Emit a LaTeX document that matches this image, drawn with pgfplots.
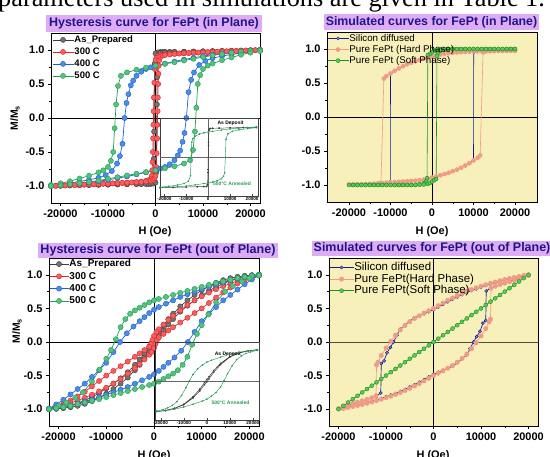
\documentclass[border=0pt]{standalone}
\usepackage{pgfplots}
\pgfplotsset{compat=1.18}
\usepackage{fontspec}
\setmainfont{Liberation Sans}
\newfontfamily\seriffont{Liberation Serif}
\definecolor{cBk}{RGB}{60,60,60}
\definecolor{cBkF}{RGB}{115,115,115}
\definecolor{cRd}{RGB}{225,35,35}
\definecolor{cRdF}{RGB}{245,95,95}
\definecolor{cBl}{RGB}{30,95,205}
\definecolor{cBlF}{RGB}{75,140,235}
\definecolor{cGn}{RGB}{35,155,85}
\definecolor{cGnF}{RGB}{85,195,125}
\definecolor{tbg}{RGB}{222,172,246}
\definecolor{tfg}{RGB}{32,20,135}
\definecolor{ybg}{RGB}{247,240,186}
\definecolor{sNv}{RGB}{25,25,140}
\definecolor{sNvF}{RGB}{120,120,210}
\definecolor{sSa}{RGB}{240,155,135}
\definecolor{sGn}{RGB}{25,145,25}
\definecolor{sGnF}{RGB}{90,200,90}
\pgfplotsset{
  panel/.style={scale only axis, clip=true, scaled ticks=false,
    axis line style={black, line width=0.6pt},
    tick align=outside, tick pos=left,
    major tick length=3bp, minor tick length=1.8bp,
    tick style={black, line width=0.5pt},
    xtick={-20000,-10000,0,10000,20000},
    xticklabels={-20000,-10000,0,10000,20000},
    minor xtick={-15000,-5000,5000,15000},
    ytick={-1,-0.5,0,0.5,1},
    yticklabels={-1.0,-0.5,0.0,0.5,1.0},
    minor ytick={-0.75,-0.25,0.25,0.75},
    ymin=-1.25, ymax=1.25,
    ticklabel style={font=\bfseries\fontsize{11}{12}\selectfont},
    legend cell align=left,
  },
  ex/.style={line width=0.7pt, mark=*, mark size=2.6bp},
  inset/.style={scale only axis, clip=true, scaled ticks=false,
    axis line style={black!75, line width=0.4pt},
    xtick={-20000,-10000,0,10000,20000},
    xticklabels={-20000,-10000,0,10000,20000},
    ytick=\empty, tick align=inside, tick pos=left,
    major tick length=1.5bp, tick style={black!75, line width=0.3pt},
    xticklabel style={font=\bfseries\fontsize{4.6}{5}\selectfont, inner sep=0.8bp},
  },
  thinmk/.style={line width=0.45pt, mark=*, mark size=0.55bp},
}
\begin{document}
\begin{tikzpicture}[x=1bp,y=1bp]
\useasboundingbox (0,0) rectangle (550,457);
\node[anchor=base west, inner sep=0pt, font=\seriffont\fontsize{26.4}{30}\selectfont] at (-2,450) {parameters used in simulations are given in Table 1.};

% ---------------- Panel 1 ----------------
\begin{axis}[panel, at={(51bp,254bp)}, anchor=south west, width=209bp, height=170bp,
  xmin=-22000, xmax=22000,
  legend style={at={(0,1)}, anchor=north west, draw=none, fill=none, inner sep=0pt,
    xshift=1bp, yshift=-1.5bp, font=\bfseries\fontsize{9.5}{10}\selectfont, row sep=1.6bp,
    nodes={inner sep=0.6bp, text height=7.2bp, text depth=2bp}},
  legend image code/.code={\draw[mark repeat=2,mark phase=2] plot coordinates {(0bp,0bp)(10.5bp,0bp)(21bp,0bp)};}]
\draw[black, line width=0.5pt] (axis cs:-22000,0) -- (axis cs:22000,0);
\draw[black, line width=0.5pt] (axis cs:0,-1.25) -- (axis cs:0,1.25);
\addplot[ex, cBk, mark options={solid, line width=0.4pt, fill=cBkF, draw=cBk}] coordinates {
(22000,1.0) (20000,0.995) (18000,0.99) (16000,0.988) (14000,0.985) (12000,0.983) (10000,0.98) (8000,0.978) (6000,0.976) (4000,0.974) (3000,0.973) (2000,0.972) (1500,0.971) (1000,0.97) (500,0.965) (0,0.95) (-150,0.8) (-250,0.3) (-300,-0.2) (-350,-0.6) (-450,-0.88) (-700,-0.94) (-1000,-0.955) (-1500,-0.96) (-2000,-0.962) (-3000,-0.965) (-4000,-0.968) (-6000,-0.972) (-8000,-0.976) (-10000,-0.98) (-12000,-0.983) (-14000,-0.986) (-16000,-0.989) (-18000,-0.992) (-20000,-0.996) (-22000,-1.0)
(-20000,-0.995) (-18000,-0.99) (-16000,-0.988) (-14000,-0.985) (-12000,-0.983) (-10000,-0.98) (-8000,-0.978) (-6000,-0.976) (-4000,-0.974) (-3000,-0.973) (-2000,-0.972) (-1500,-0.971) (-1000,-0.97) (-500,-0.965) (0,-0.95) (150,-0.8) (250,-0.3) (300,0.2) (350,0.6) (450,0.88) (700,0.94) (1000,0.955) (1500,0.96) (2000,0.962) (3000,0.965) (4000,0.968) (6000,0.972) (8000,0.976) (10000,0.98) (12000,0.983) (14000,0.986) (16000,0.989) (18000,0.992) (20000,0.996) (22000,1.0)
};
\addlegendentry{As\_Prepared}
\addplot[ex, cRd, mark options={solid, line width=0.4pt, fill=cRdF, draw=cRd}] coordinates {
(22000,1.0) (21000,0.997) (20000,0.994) (19000,0.991) (18000,0.988) (17000,0.985) (16000,0.982) (15000,0.979) (14000,0.976) (13000,0.973) (12000,0.97) (11000,0.967) (10000,0.964) (9000,0.961) (8000,0.958) (7000,0.955) (6000,0.952) (5000,0.949) (4000,0.945) (3000,0.94) (2000,0.934) (1000,0.924) (500,0.91) (200,0.885) (0,0.85) (-150,0.72) (-250,0.52) (-330,0.3) (-400,0.1) (-450,-0.1) (-500,-0.3) (-560,-0.5) (-620,-0.65) (-700,-0.77) (-800,-0.85) (-1000,-0.9) (-1500,-0.915) (-2000,-0.925) (-3000,-0.935) (-4000,-0.942) (-5000,-0.948) (-6000,-0.952) (-7000,-0.956) (-8000,-0.96) (-9000,-0.963) (-10000,-0.966) (-11000,-0.969) (-12000,-0.972) (-13000,-0.975) (-14000,-0.978) (-15000,-0.981) (-16000,-0.984) (-17000,-0.987) (-18000,-0.99) (-19000,-0.993) (-20000,-0.996) (-21000,-0.998) (-22000,-1.0)
(-21000,-0.997) (-20000,-0.994) (-19000,-0.991) (-18000,-0.988) (-17000,-0.985) (-16000,-0.982) (-15000,-0.979) (-14000,-0.976) (-13000,-0.973) (-12000,-0.97) (-11000,-0.967) (-10000,-0.964) (-9000,-0.961) (-8000,-0.958) (-7000,-0.955) (-6000,-0.952) (-5000,-0.949) (-4000,-0.945) (-3000,-0.94) (-2000,-0.934) (-1000,-0.924) (-500,-0.91) (-200,-0.885) (0,-0.85) (150,-0.72) (250,-0.52) (330,-0.3) (400,-0.1) (450,0.1) (500,0.3) (560,0.5) (620,0.65) (700,0.77) (800,0.85) (1000,0.9) (1500,0.915) (2000,0.925) (3000,0.935) (4000,0.942) (5000,0.948) (6000,0.952) (7000,0.956) (8000,0.96) (9000,0.963) (10000,0.966) (11000,0.969) (12000,0.972) (13000,0.975) (14000,0.978) (15000,0.981) (16000,0.984) (17000,0.987) (18000,0.99) (19000,0.993) (20000,0.996) (21000,0.998) (22000,1.0)
};
\addlegendentry{300 C}
\addplot[ex, cBl, mark options={solid, line width=0.4pt, fill=cBlF, draw=cBl}] coordinates {
(22000,1.0) (20000,0.99) (18000,0.978) (16000,0.965) (14000,0.95) (12000,0.93) (10000,0.91) (8000,0.885) (6000,0.86) (4000,0.83) (2000,0.8) (0,0.765) (-1000,0.745) (-2000,0.72) (-3000,0.68) (-4000,0.62) (-4700,0.55) (-5200,0.48) (-5700,0.35) (-6100,0.22) (-6500,0.0) (-6950,-0.38) (-7500,-0.56) (-8100,-0.67) (-9200,-0.78) (-10500,-0.84) (-12000,-0.88) (-14000,-0.91) (-16000,-0.935) (-18000,-0.955) (-20000,-0.975) (-22000,-0.99)
(-22000,-1.0) (-20000,-0.99) (-18000,-0.978) (-16000,-0.965) (-14000,-0.95) (-12000,-0.93) (-10000,-0.91) (-8000,-0.885) (-6000,-0.86) (-4000,-0.83) (-2000,-0.8) (0,-0.765) (1000,-0.745) (2000,-0.72) (3000,-0.68) (4000,-0.62) (4700,-0.55) (5200,-0.48) (5700,-0.35) (6100,-0.22) (6500,0.0) (6950,0.38) (7500,0.56) (8100,0.67) (9200,0.78) (10500,0.84) (12000,0.88) (14000,0.91) (16000,0.935) (18000,0.955) (20000,0.975) (22000,0.99)
};
\addlegendentry{400 C}
\addplot[ex, cGn, mark options={solid, line width=0.4pt, fill=cGnF, draw=cGn}] coordinates {
(22000,1.0) (20000,0.99) (18000,0.975) (16000,0.96) (14000,0.94) (12000,0.92) (10000,0.895) (8000,0.87) (6000,0.845) (4000,0.82) (2000,0.795) (0,0.77) (-2000,0.74) (-4000,0.71) (-6000,0.67) (-7300,0.62) (-7900,0.47) (-8300,0.2) (-8600,-0.15) (-8900,-0.5) (-9400,-0.63) (-10000,-0.72) (-11000,-0.77) (-12000,-0.8) (-14000,-0.85) (-16000,-0.89) (-18000,-0.93) (-20000,-0.96) (-22000,-0.985)
(-22000,-1.0) (-20000,-0.99) (-18000,-0.975) (-16000,-0.96) (-14000,-0.94) (-12000,-0.92) (-10000,-0.895) (-8000,-0.87) (-6000,-0.845) (-4000,-0.82) (-2000,-0.795) (0,-0.77) (2000,-0.74) (4000,-0.71) (6000,-0.67) (7300,-0.62) (7900,-0.47) (8300,-0.2) (8600,0.15) (8900,0.5) (9400,0.63) (10000,0.72) (11000,0.77) (12000,0.8) (14000,0.85) (16000,0.89) (18000,0.93) (20000,0.96) (22000,0.985)
};
\addlegendentry{500 C}
\end{axis}

% inset panel 1
\begin{axis}[inset, at={(160bp,261bp)}, anchor=south west, width=98bp, height=78bp,
  xmin=-22000, xmax=22700, ymin=-1.27, ymax=1.3]
\draw[black!60, line width=0.35pt] (axis cs:-22000,0) -- (axis cs:22700,0);
\draw[black!60, line width=0.35pt] (axis cs:0,-1.27) -- (axis cs:0,1.3);
\addplot[thinmk, cBk] coordinates {
(22000,1.0) (16000,0.985) (10000,0.975) (5000,0.965) (2000,0.96) (800,0.955) (300,0.9) (100,0.4) (-100,-0.5) (-300,-0.9) (-800,-0.955) (-2000,-0.96) (-5000,-0.965) (-10000,-0.975) (-16000,-0.985) (-22000,-1.0)
(-16000,-0.985) (-10000,-0.975) (-5000,-0.965) (-2000,-0.96) (-800,-0.955) (-300,-0.9) (-100,-0.4) (100,0.5) (300,0.9) (800,0.955) (2000,0.96) (5000,0.965) (10000,0.975) (16000,0.985) (22000,1.0)
};
\addplot[thinmk, cGn] coordinates {
(22000,1.0) (18000,0.985) (14000,0.965) (10000,0.94) (6000,0.905) (2000,0.86) (0,0.84) (-2000,0.81) (-4000,0.77) (-6000,0.7) (-7000,0.62) (-7500,0.5) (-7800,0.0) (-8100,-0.6) (-9000,-0.78) (-11000,-0.86) (-14000,-0.91) (-18000,-0.95) (-22000,-0.98)
(-22000,-1.0) (-18000,-0.985) (-14000,-0.965) (-10000,-0.94) (-6000,-0.905) (-2000,-0.86) (0,-0.84) (2000,-0.81) (4000,-0.77) (6000,-0.7) (7000,-0.62) (7500,-0.5) (7800,0.0) (8100,0.6) (9000,0.78) (11000,0.86) (14000,0.91) (18000,0.95) (22000,0.98)
};
\node[font=\bfseries\fontsize{5}{5}\selectfont, text=black] at (rel axis cs:0.72,0.935) {As Deposit};
\node[font=\bfseries\fontsize{5}{5}\selectfont, text=cGn] at (rel axis cs:0.735,0.16) {500°C Annealed};
\end{axis}

% ---------------- Panel 2 ----------------
\begin{axis}[panel, at={(327bp,255bp)}, anchor=south west, width=210bp, height=170bp,
  xmin=-25300, xmax=25300, axis background/.style={fill=ybg},
  legend style={at={(0,1)}, anchor=north west, draw=none, fill=none, inner sep=0pt,
    xshift=0bp, yshift=-1bp, font=\fontsize{9.8}{10}\selectfont, row sep=0.6bp,
    nodes={inner sep=0.6bp, text height=7.3bp, text depth=2bp}},
  legend image code/.code={\draw[mark repeat=2,mark phase=2] plot coordinates {(0bp,0bp)(10.5bp,0bp)(21bp,0bp)};}]
\draw[black, line width=0.5pt] (axis cs:-25300,0) -- (axis cs:25300,0);
\draw[black, line width=0.5pt] (axis cs:0,-1.25) -- (axis cs:0,1.25);
\addplot[sNv, line width=0.6pt, mark=*, mark size=1.5bp, mark options={solid, fill=sNvF, draw=sNv, line width=0.4pt}] coordinates {
(20000,0.975) (19000,0.975) (18000,0.974) (17000,0.974) (16000,0.973) (15000,0.972) (14000,0.971) (13000,0.97) (12000,0.968) (11000,0.966) (10000,0.964) (9000,0.961) (8000,0.958) (7000,0.954) (6000,0.95) (5000,0.945) (4000,0.938) (3000,0.93) (2000,0.92) (1000,0.905) (0,0.89) (-1000,0.875) (-2000,0.858) (-3000,0.84) (-4000,0.82) (-5000,0.798) (-6000,0.774) (-7000,0.746) (-8000,0.714) (-9000,0.68) (-10000,0.64) (-10050,-0.95) (-11000,-0.975) (-12000,-0.98) (-13000,-0.985) (-14000,-0.988) (-15000,-0.99) (-16000,-0.99) (-17000,-0.992) (-18000,-0.992) (-19000,-0.993) (-20000,-0.993)
(-19000,-0.993) (-18000,-0.992) (-17000,-0.99) (-16000,-0.988) (-15000,-0.985) (-14000,-0.981) (-13000,-0.977) (-12000,-0.972) (-11000,-0.967) (-10000,-0.962) (-9000,-0.958) (-8000,-0.954) (-7000,-0.95) (-6000,-0.946) (-5000,-0.942) (-4000,-0.937) (-3000,-0.93) (-2000,-0.92) (-1000,-0.905) (0,-0.89) (1000,-0.875) (2000,-0.858) (3000,-0.84) (4000,-0.82) (5000,-0.798) (6000,-0.774) (7000,-0.746) (8000,-0.714) (9000,-0.68) (10000,-0.64) (10050,0.95) (11000,0.965) (12000,0.968) (13000,0.97) (14000,0.971) (15000,0.972) (16000,0.973) (17000,0.974) (18000,0.974) (19000,0.975) (20000,0.975)
};
\addlegendentry{Silicon diffused}
\addplot[sSa, line width=0.6pt, mark=*, mark size=2bp, mark options={solid, fill=sSa, draw=sSa}] coordinates {
(20000,0.975) (19000,0.975) (18000,0.974) (17000,0.974) (16000,0.973) (15000,0.972) (14000,0.971) (13000,0.97) (12000,0.968) (11000,0.966) (10000,0.964) (9000,0.961) (8000,0.958) (7000,0.954) (6000,0.95) (5000,0.945) (4000,0.938) (3000,0.93) (2000,0.92) (1000,0.905) (0,0.89) (-1000,0.875) (-2000,0.858) (-3000,0.84) (-4000,0.82) (-5000,0.798) (-6000,0.774) (-7000,0.746) (-8000,0.714) (-9000,0.68) (-10000,0.64) (-11000,0.6) (-11600,0.565) (-12300,-0.97) (-13000,-0.985) (-14000,-0.988) (-15000,-0.99) (-16000,-0.99) (-17000,-0.992) (-18000,-0.992) (-19000,-0.993) (-20000,-0.993)
(-19000,-0.993) (-18000,-0.992) (-17000,-0.99) (-16000,-0.988) (-15000,-0.985) (-14000,-0.981) (-13000,-0.977) (-12000,-0.972) (-11000,-0.967) (-10000,-0.962) (-9000,-0.958) (-8000,-0.954) (-7000,-0.95) (-6000,-0.946) (-5000,-0.942) (-4000,-0.937) (-3000,-0.93) (-2000,-0.92) (-1000,-0.905) (0,-0.89) (1000,-0.875) (2000,-0.858) (3000,-0.84) (4000,-0.82) (5000,-0.798) (6000,-0.774) (7000,-0.746) (8000,-0.714) (9000,-0.68) (10000,-0.64) (11000,-0.6) (11600,-0.565) (12300,0.95) (13000,0.965) (14000,0.968) (15000,0.97) (16000,0.972) (17000,0.973) (18000,0.974) (19000,0.975) (20000,0.975)
};
\addlegendentry{Pure FePt (Hard Phase)}
\addplot[sGn, line width=0.6pt, mark=*, mark size=2bp, mark options={solid, fill=sGnF, draw=sGn, line width=0.4pt}] coordinates {
(20000,1.0) (19000,1.0) (18000,1.0) (17000,1.0) (16000,1.0) (15000,1.0) (14000,1.0) (13000,1.0) (12000,1.0) (11000,1.0) (10000,1.0) (9000,1.0) (8000,1.0) (7000,1.0) (6000,1.0) (5000,1.0) (4000,0.998) (3000,0.996) (2000,0.993) (1000,0.985) (500,0.97) (0,0.95) (-500,0.93) (-1000,0.91) (-1200,-0.9) (-1500,-0.95) (-2000,-0.975) (-3000,-0.99) (-4000,-1.0) (-5000,-1.0) (-6000,-1.0) (-7000,-1.0) (-8000,-1.0) (-9000,-1.0) (-10000,-1.0) (-11000,-1.0) (-12000,-1.0) (-13000,-1.0) (-14000,-1.0) (-15000,-1.0) (-16000,-1.0) (-17000,-1.0) (-18000,-1.0) (-19000,-1.0) (-20000,-1.0)
(-19000,-1.0) (-18000,-1.0) (-17000,-1.0) (-16000,-1.0) (-15000,-1.0) (-14000,-1.0) (-13000,-1.0) (-12000,-1.0) (-11000,-1.0) (-10000,-1.0) (-9000,-1.0) (-8000,-1.0) (-7000,-1.0) (-6000,-1.0) (-5000,-1.0) (-4000,-0.998) (-3000,-0.996) (-2000,-0.993) (-1000,-0.985) (-500,-0.97) (0,-0.95) (500,-0.93) (1000,-0.91) (1200,0.9) (1500,0.95) (2000,0.975) (3000,0.99) (4000,1.0) (5000,1.0) (6000,1.0) (7000,1.0) (8000,1.0) (9000,1.0) (10000,1.0) (11000,1.0) (12000,1.0) (13000,1.0) (14000,1.0) (15000,1.0) (16000,1.0) (17000,1.0) (18000,1.0) (19000,1.0) (20000,1.0)
};
\addlegendentry{Pure FePt (Soft Phase)}
\end{axis}

% ---------------- Panel 3 ----------------
\begin{axis}[panel, at={(49bp,31bp)}, anchor=south west, width=210bp, height=168bp,
  xmin=-22000, xmax=22000,
  legend style={at={(0,1)}, anchor=north west, draw=none, fill=none, inner sep=0pt,
    xshift=0bp, yshift=-0.5bp, font=\bfseries\fontsize{10}{10}\selectfont, row sep=1.6bp,
    nodes={inner sep=0.6bp, text height=7.5bp, text depth=2bp}},
  legend image code/.code={\draw[mark repeat=2,mark phase=2] plot coordinates {(0bp,0bp)(9.5bp,0bp)(19bp,0bp)};}]
\draw[black, line width=0.5pt] (axis cs:-22000,0) -- (axis cs:22000,0);
\draw[black, line width=0.5pt] (axis cs:0,-1.25) -- (axis cs:0,1.25);
\addplot[ex, cBk, mark options={solid, line width=0.4pt, fill=cBkF, draw=cBk}] coordinates {
(22000,1.0) (20500,0.995) (19000,0.985) (17500,0.97) (16000,0.95) (14500,0.92) (13000,0.88) (11500,0.83) (10000,0.77) (8500,0.7) (7000,0.62) (5500,0.53) (4000,0.42) (3000,0.34) (2000,0.25) (1000,0.15) (500,0.1) (0,0.05) (-500,-0.01) (-1000,-0.07) (-2000,-0.17) (-3000,-0.26) (-4000,-0.34) (-5500,-0.45) (-7000,-0.54) (-8500,-0.62) (-10000,-0.69) (-11500,-0.76) (-13000,-0.82) (-14500,-0.87) (-16000,-0.91) (-17500,-0.945) (-19000,-0.97) (-20500,-0.99) (-22000,-1.0)
(-20500,-0.995) (-19000,-0.985) (-17500,-0.97) (-16000,-0.95) (-14500,-0.92) (-13000,-0.88) (-11500,-0.83) (-10000,-0.77) (-8500,-0.7) (-7000,-0.62) (-5500,-0.53) (-4000,-0.42) (-3000,-0.34) (-2000,-0.25) (-1000,-0.15) (-500,-0.1) (0,-0.05) (500,0.01) (1000,0.07) (2000,0.17) (3000,0.26) (4000,0.34) (5500,0.45) (7000,0.54) (8500,0.62) (10000,0.69) (11500,0.76) (13000,0.82) (14500,0.87) (16000,0.91) (17500,0.945) (19000,0.97) (20500,0.99) (22000,1.0)
};
\addlegendentry{As\_Prepared}
\addplot[ex, cRd, mark options={solid, line width=0.4pt, fill=cRdF, draw=cRd}] coordinates {
(22000,1.0) (20500,0.975) (19000,0.945) (17500,0.91) (16000,0.87) (14500,0.83) (13000,0.785) (11500,0.735) (10000,0.68) (8500,0.62) (7000,0.55) (5500,0.47) (4000,0.39) (3000,0.33) (2000,0.26) (1000,0.19) (500,0.15) (0,0.09) (-300,0.03) (-600,-0.03) (-1000,-0.07) (-2000,-0.12) (-3000,-0.17) (-4000,-0.22) (-5500,-0.29) (-7000,-0.36) (-8500,-0.43) (-10000,-0.5) (-11500,-0.58) (-13000,-0.66) (-14500,-0.74) (-16000,-0.81) (-17500,-0.87) (-19000,-0.92) (-20500,-0.96) (-22000,-0.99)
(-22000,-1.0) (-20500,-0.975) (-19000,-0.945) (-17500,-0.91) (-16000,-0.87) (-14500,-0.83) (-13000,-0.785) (-11500,-0.735) (-10000,-0.68) (-8500,-0.62) (-7000,-0.55) (-5500,-0.47) (-4000,-0.39) (-3000,-0.33) (-2000,-0.26) (-1000,-0.19) (-500,-0.15) (0,-0.09) (300,-0.03) (600,0.03) (1000,0.07) (2000,0.12) (3000,0.17) (4000,0.22) (5500,0.29) (7000,0.36) (8500,0.43) (10000,0.5) (11500,0.58) (13000,0.66) (14500,0.74) (16000,0.81) (17500,0.87) (19000,0.92) (20500,0.96) (22000,0.99)
};
\addlegendentry{300 C}
\addplot[ex, cBl, mark options={solid, line width=0.4pt, fill=cBlF, draw=cBl}] coordinates {
(22000,1.0) (20500,0.985) (19000,0.965) (17500,0.94) (16000,0.915) (14500,0.885) (13000,0.855) (11500,0.82) (10000,0.785) (8500,0.75) (7000,0.71) (5500,0.67) (4000,0.62) (2500,0.57) (1000,0.52) (0,0.48) (-1000,0.43) (-2000,0.37) (-3000,0.31) (-4300,0.23) (-5700,0.13) (-7100,0.0) (-8500,-0.15) (-10000,-0.31) (-11500,-0.42) (-13000,-0.52) (-14500,-0.62) (-16000,-0.7) (-17500,-0.78) (-19000,-0.86) (-20500,-0.93) (-22000,-0.99)
(-22000,-1.0) (-20500,-0.985) (-19000,-0.965) (-17500,-0.94) (-16000,-0.915) (-14500,-0.885) (-13000,-0.855) (-11500,-0.82) (-10000,-0.785) (-8500,-0.75) (-7000,-0.71) (-5500,-0.67) (-4000,-0.62) (-2500,-0.57) (-1000,-0.52) (0,-0.48) (1000,-0.43) (2000,-0.37) (3000,-0.31) (4300,-0.23) (5700,-0.13) (7100,0.0) (8500,0.15) (10000,0.31) (11500,0.42) (13000,0.52) (14500,0.62) (16000,0.7) (17500,0.78) (19000,0.86) (20500,0.93) (22000,0.99)
};
\addlegendentry{400 C}
\addplot[ex, cGn, mark options={solid, line width=0.4pt, fill=cGnF, draw=cGn}] coordinates {
(22000,1.0) (20500,0.985) (19000,0.97) (17500,0.95) (16000,0.925) (14500,0.9) (13000,0.875) (11500,0.85) (10000,0.82) (8500,0.79) (7000,0.76) (5500,0.73) (4000,0.7) (2500,0.67) (1000,0.64) (0,0.62) (-1000,0.59) (-2000,0.55) (-3000,0.51) (-4000,0.47) (-5000,0.42) (-6000,0.34) (-7000,0.22) (-8000,0.04) (-9000,-0.12) (-10000,-0.25) (-11400,-0.41) (-13000,-0.59) (-14900,-0.75) (-16500,-0.83) (-18400,-0.9) (-20000,-0.95) (-22000,-0.99)
(-22000,-1.0) (-20500,-0.985) (-19000,-0.97) (-17500,-0.95) (-16000,-0.925) (-14500,-0.9) (-13000,-0.875) (-11500,-0.85) (-10000,-0.82) (-8500,-0.79) (-7000,-0.76) (-5500,-0.73) (-4000,-0.7) (-2500,-0.67) (-1000,-0.64) (0,-0.62) (1000,-0.59) (2000,-0.55) (3000,-0.51) (4000,-0.47) (5000,-0.42) (6000,-0.34) (7000,-0.22) (8000,-0.04) (9000,0.12) (10000,0.25) (11400,0.41) (13000,0.59) (14900,0.75) (16500,0.83) (18400,0.9) (20000,0.95) (22000,0.99)
};
\addlegendentry{500 C}
\end{axis}

% inset panel 3
\begin{axis}[inset, at={(155bp,37bp)}, anchor=south west, width=104bp, height=78bp,
  xmin=-22500, xmax=22700, ymin=-1.27, ymax=1.25]
\draw[black!60, line width=0.35pt] (axis cs:-22500,0) -- (axis cs:22700,0);
\addplot[thinmk, cBk] coordinates {
(22000,1.0) (18000,0.97) (14000,0.9) (10000,0.78) (6000,0.56) (3000,0.33) (1000,0.13) (0,0.04) (-1000,-0.06) (-3000,-0.27) (-6000,-0.52) (-10000,-0.76) (-14000,-0.89) (-18000,-0.96) (-22000,-1.0)
(-18000,-0.97) (-14000,-0.9) (-10000,-0.78) (-6000,-0.56) (-3000,-0.33) (-1000,-0.13) (0,-0.04) (1000,0.06) (3000,0.27) (6000,0.52) (10000,0.76) (14000,0.89) (18000,0.96) (22000,1.0)
};
\addplot[thinmk, cGn] coordinates {
(22000,1.0) (18000,0.97) (14000,0.92) (10000,0.85) (6000,0.76) (2000,0.66) (0,0.6) (-2000,0.5) (-4000,0.38) (-6000,0.2) (-7500,0.0) (-9000,-0.22) (-11000,-0.48) (-13000,-0.68) (-15000,-0.8) (-17000,-0.88) (-19000,-0.93) (-22000,-0.98)
(-22000,-1.0) (-18000,-0.97) (-14000,-0.92) (-10000,-0.85) (-6000,-0.76) (-2000,-0.66) (0,-0.6) (2000,-0.5) (4000,-0.38) (6000,-0.2) (7500,0.0) (9000,0.22) (11000,0.48) (13000,0.68) (15000,0.8) (17000,0.88) (19000,0.93) (22000,0.98)
};
\node[font=\bfseries\fontsize{5}{5}\selectfont, text=black] at (rel axis cs:0.7,0.84) {As Deposit};
\node[font=\bfseries\fontsize{5}{5}\selectfont, text=cGn] at (rel axis cs:0.726,0.22) {500°C Annealed};
\end{axis}

% ---------------- Panel 4 ----------------
\begin{axis}[panel, at={(329bp,31bp)}, anchor=south west, width=209bp, height=168bp,
  xmin=-22000, xmax=22000, axis background/.style={fill=ybg},
  legend style={at={(0,1)}, anchor=north west, draw=none, fill=none, inner sep=0pt,
    xshift=0bp, yshift=-3.5bp, font=\fontsize{11.5}{12}\selectfont, row sep=0bp,
    nodes={inner sep=0.4bp, text height=8.4bp, text depth=2.4bp}},
  legend image code/.code={\draw[mark repeat=2,mark phase=2] plot coordinates {(0bp,0bp)(12bp,0bp)(24bp,0bp)};}]
\draw[black!70, line width=0.5pt] (axis cs:-22000,0) -- (axis cs:22000,0);
\draw[black, line width=0.5pt] (axis cs:0,-1.25) -- (axis cs:0,1.25);
\addplot[sNv, line width=0.7pt, mark=*, mark size=1.6bp, mark options={solid, fill=sNvF, draw=sNv, line width=0.4pt}] coordinates {
(20000,1.0) (19000,0.985) (18000,0.97) (17000,0.955) (16000,0.94) (15000,0.92) (14000,0.9) (13000,0.88) (12000,0.86) (11000,0.84) (10000,0.815) (9000,0.79) (8000,0.765) (7000,0.735) (6000,0.705) (5000,0.67) (4000,0.635) (3000,0.6) (2000,0.56) (1000,0.52) (0,0.48) (-1000,0.45) (-2000,0.42) (-3000,0.39) (-4000,0.36) (-5000,0.31) (-6000,0.25) (-7000,0.19) (-7700,0.1) (-8400,0.0) (-9100,-0.08) (-9800,-0.16) (-10400,-0.28) (-11000,-0.32) (-11100,-0.76) (-12000,-0.8) (-13000,-0.83) (-14000,-0.855) (-15000,-0.88) (-16000,-0.9) (-17000,-0.925) (-18000,-0.95) (-19000,-0.975) (-20000,-1.0)
(-19000,-0.985) (-18000,-0.97) (-17000,-0.955) (-16000,-0.94) (-15000,-0.92) (-14000,-0.9) (-13000,-0.88) (-12000,-0.86) (-11000,-0.84) (-10000,-0.815) (-9000,-0.79) (-8000,-0.765) (-7000,-0.735) (-6000,-0.705) (-5000,-0.67) (-4000,-0.635) (-3000,-0.6) (-2000,-0.56) (-1000,-0.52) (0,-0.48) (1000,-0.45) (2000,-0.42) (3000,-0.39) (4000,-0.36) (5000,-0.31) (6000,-0.25) (7000,-0.19) (7700,-0.1) (8400,0.0) (9100,0.08) (9800,0.16) (10400,0.28) (11000,0.32) (11100,0.76) (12000,0.8) (13000,0.83) (14000,0.855) (15000,0.88) (16000,0.9) (17000,0.925) (18000,0.95) (19000,0.975) (20000,1.0)
};
\addlegendentry{Silicon diffused}
\addplot[sSa, line width=0.7pt, mark=*, mark size=2.1bp, mark options={solid, fill=sSa, draw=sSa}] coordinates {
(20000,1.0) (19000,0.99) (18000,0.975) (17000,0.96) (16000,0.945) (15000,0.93) (14000,0.912) (13000,0.893) (12000,0.873) (11000,0.852) (10000,0.83) (9000,0.806) (8000,0.78) (7000,0.752) (6000,0.722) (5000,0.69) (4000,0.655) (3000,0.62) (2000,0.58) (1000,0.54) (0,0.5) (-1000,0.465) (-2000,0.43) (-3000,0.39) (-4000,0.35) (-5000,0.3) (-6000,0.245) (-7000,0.18) (-8000,0.1) (-9000,0.01) (-10000,-0.09) (-11000,-0.2) (-11700,-0.3) (-12000,-0.34) (-12100,-0.8) (-13000,-0.83) (-14000,-0.855) (-15000,-0.875) (-16000,-0.895) (-17000,-0.915) (-18000,-0.94) (-19000,-0.965) (-20000,-0.99)
(-19000,-0.99) (-18000,-0.975) (-17000,-0.96) (-16000,-0.945) (-15000,-0.93) (-14000,-0.912) (-13000,-0.893) (-12000,-0.873) (-11000,-0.852) (-10000,-0.83) (-9000,-0.806) (-8000,-0.78) (-7000,-0.752) (-6000,-0.722) (-5000,-0.69) (-4000,-0.655) (-3000,-0.62) (-2000,-0.58) (-1000,-0.54) (0,-0.5) (1000,-0.465) (2000,-0.43) (3000,-0.39) (4000,-0.35) (5000,-0.3) (6000,-0.245) (7000,-0.18) (8000,-0.1) (9000,-0.01) (10000,0.09) (11000,0.2) (11700,0.3) (12000,0.34) (12100,0.8) (13000,0.83) (14000,0.855) (15000,0.875) (16000,0.895) (17000,0.915) (18000,0.94) (19000,0.965) (20000,0.99)
};
\addlegendentry{Pure FePt(Hard Phase)}
\addplot[sGn, line width=0.7pt, mark=*, mark size=2bp, mark options={solid, fill=sGnF, draw=sGn, line width=0.4pt}] coordinates {
(-20000,-1.0) (-19000,-0.95) (-18000,-0.9) (-17000,-0.85) (-16000,-0.8) (-15000,-0.75) (-14000,-0.7) (-13000,-0.65) (-12000,-0.6) (-11000,-0.55) (-10000,-0.5) (-9000,-0.45) (-8000,-0.4) (-7000,-0.35) (-6000,-0.3) (-5000,-0.25) (-4000,-0.2) (-3000,-0.15) (-2000,-0.1) (-1000,-0.05) (0,0.0) (1000,0.05) (2000,0.1) (3000,0.15) (4000,0.2) (5000,0.25) (6000,0.3) (7000,0.35) (8000,0.4) (9000,0.45) (10000,0.5) (11000,0.55) (12000,0.6) (13000,0.65) (14000,0.7) (15000,0.75) (16000,0.8) (17000,0.85) (18000,0.9) (19000,0.95) (20000,1.0)
};
\addlegendentry{Pure FePt(Soft Phase)}
\end{axis}

% titles
\node[fill=tbg, text=tfg, font=\bfseries\fontsize{12.5}{13}\selectfont, inner xsep=3bp, inner ysep=2bp, text height=9.4bp, text depth=2.7bp] at (154,433.5) {Hysteresis curve for FePt (in Plane)};
\node[fill=tbg, text=tfg, font=\bfseries\fontsize{12.4}{13}\selectfont, inner xsep=2bp, inner ysep=1.5bp, text height=9.4bp, text depth=2.7bp] at (431.5,435) {Simulated curves for FePt (in Plane)};
\node[fill=tbg, text=tfg, font=\bfseries\fontsize{12.6}{13}\selectfont, inner xsep=2.5bp, inner ysep=1.5bp, text height=9.4bp, text depth=2.7bp] at (158,206.5) {Hysteresis curve for FePt (out of Plane)};
\node[fill=tbg, text=tfg, font=\bfseries\fontsize{12.5}{13}\selectfont, inner xsep=1.5bp, inner ysep=1.5bp, text height=9.4bp, text depth=2.7bp, anchor=west] at (312,208.5) {Simulated curves for FePt (out of Plane)};

% axis labels
\node[rotate=90, font=\bfseries\fontsize{10.5}{11}\selectfont] at (15,339) {M/M\textsubscript{s}};
\node[rotate=90, font=\bfseries\fontsize{10.5}{11}\selectfont] at (17,126) {M/M\textsubscript{s}};
\node[anchor=base, inner sep=0pt, font=\bfseries\fontsize{11}{12}\selectfont] at (155,222) {H (Oe)};
\node[anchor=base, inner sep=0pt, font=\bfseries\fontsize{11}{12}\selectfont] at (432,222) {H (Oe)};
\node[anchor=base, inner sep=0pt, font=\bfseries\fontsize{11}{12}\selectfont] at (154,-1.5) {H (Oe)};
\node[anchor=base, inner sep=0pt, font=\bfseries\fontsize{11}{12}\selectfont] at (433,-1.5) {H (Oe)};
\end{tikzpicture}
\end{document}
